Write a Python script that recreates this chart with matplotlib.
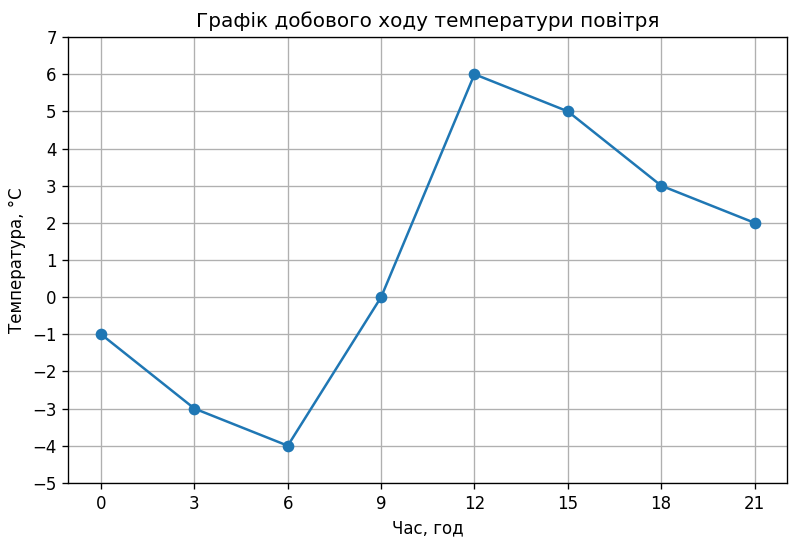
import matplotlib
matplotlib.use("Agg")
import matplotlib.pyplot as plt
import numpy as np

hours = [0, 3, 6, 9, 12, 15, 18, 21]
temps = [-1, -3, -4, 0, 6, 5, 3, 2]
yticks = list(range(-5, 8))

fig, ax = plt.subplots(figsize=(800/120, 545/120), dpi=120)
ax.plot(hours, temps, marker='o', color='#1f77b4')
ax.set_title('Графік добового ходу температури повітря')
ax.set_xlabel('Час, год')
ax.set_ylabel('Температура, °C')
ax.set_xticks(hours)
ax.set_yticks(yticks)
ax.set_ylim(-5, 7)
ax.grid(True)
fig.subplots_adjust(left=0.0855, right=0.984, top=0.932, bottom=0.114)
fig.savefig('out.png', dpi=120)
